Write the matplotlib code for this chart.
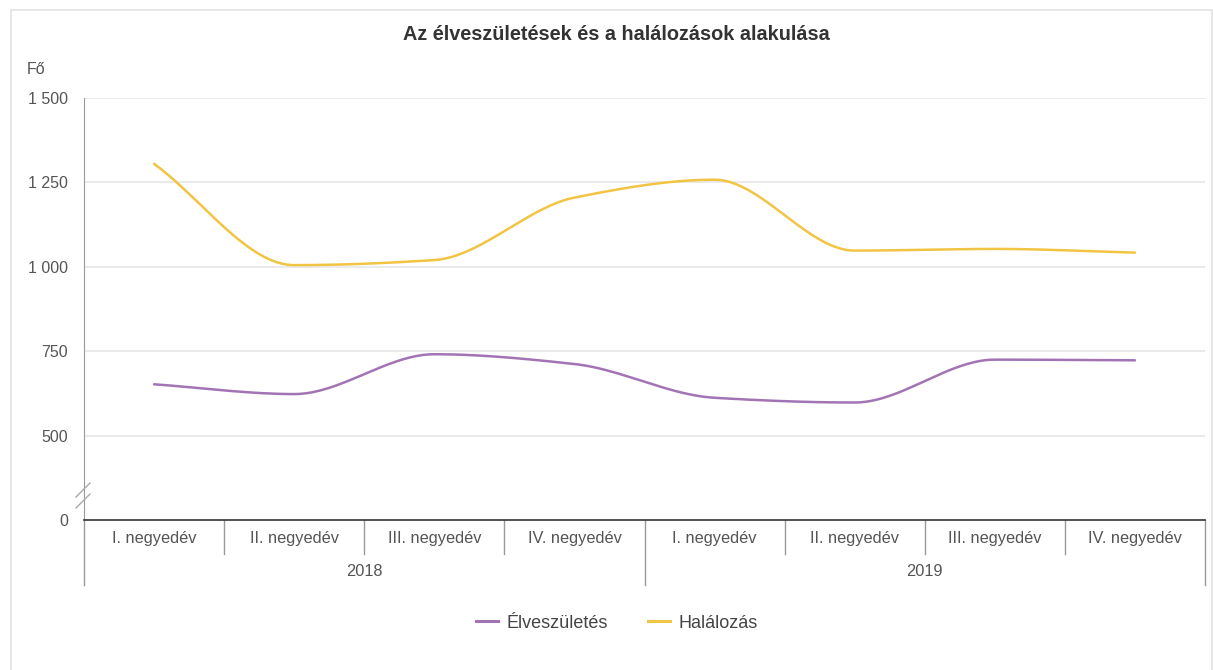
import numpy as np
import matplotlib
matplotlib.use('Agg')
import matplotlib.pyplot as plt
from matplotlib.lines import Line2D
from matplotlib.patches import Rectangle

plt.rcParams['font.family'] = ['Liberation Sans', 'DejaVu Sans']

# adatok
years = ['2018', '2019']
quarters = ['I. negyedév', 'II. negyedév', 'III. negyedév', 'IV. negyedév']
elveszuletes = [652, 623, 741, 712, 612, 598, 725, 723]
halalozas = [1305, 1005, 1020, 1205, 1258, 1048, 1053, 1042]

y_ticks = [250, 500, 750, 1000, 1250, 1500]
y_tick_labels = ['0', '500', '750', '1 000', '1 250', '1 500']

PURPLE = '#a274b4'
YELLOW = '#f2c443'


def monotone_curve(y, n=40):
    # Fritsch-Carlson monoton köbös görbe, csak a vonal simításához
    y = np.asarray(y, dtype=float)
    x = np.arange(len(y), dtype=float)
    d = np.diff(y)
    m = np.zeros_like(y)
    m[0], m[-1] = d[0], d[-1]
    for i in range(1, len(y) - 1):
        if d[i - 1] * d[i] <= 0:
            m[i] = 0
        else:
            m[i] = 2 / (1 / d[i - 1] + 1 / d[i])
    xs, ys = [], []
    for i in range(len(y) - 1):
        t = np.linspace(0, 1, n)
        h00 = 2 * t**3 - 3 * t**2 + 1
        h10 = t**3 - 2 * t**2 + t
        h01 = -2 * t**3 + 3 * t**2
        h11 = t**3 - t**2
        xs.append(x[i] + t)
        ys.append(h00 * y[i] + h10 * m[i] + h01 * y[i + 1] + h11 * m[i + 1])
    return np.concatenate(xs), np.concatenate(ys)


W, H = 1213, 670
fig = plt.figure(figsize=(W / 100, H / 100), dpi=100)
fig.patches.append(Rectangle((11 / W, -0.01), (W - 12) / W, 1 - 10 / H + 0.01,
                             transform=fig.transFigure, fill=False,
                             edgecolor='#e3e3e3', linewidth=1.2))

x0, x1 = 84, 1205
ytop, ybot = 98, 520
ax = fig.add_axes([x0 / W, 1 - ybot / H, (x1 - x0) / W, (ybot - ytop) / H])

n = len(years) * len(quarters)
ax.set_xlim(-0.5, n - 0.5)
ax.set_ylim(250, 1500)

for yv in y_ticks[1:]:
    ax.axhline(yv, color='#e6e6e6', linewidth=1.2, zorder=0)

xs, ys = monotone_curve(elveszuletes)
ax.plot(xs, ys, color=PURPLE, linewidth=1.8, solid_capstyle='round')
xs, ys = monotone_curve(halalozas)
ax.plot(xs, ys, color=YELLOW, linewidth=1.8, solid_capstyle='round')

for s in ['top', 'right']:
    ax.spines[s].set_visible(False)
ax.spines['left'].set_color('#999999')
ax.spines['bottom'].set_color('#333333')
ax.spines['bottom'].set_linewidth(1.2)

ax.set_yticks(y_ticks)
ax.set_yticklabels(y_tick_labels)
ax.tick_params(axis='y', length=0, pad=11.5, labelsize=11.5, labelcolor='#555555')
ax.set_xticks([])

# kategória címkék és elválasztók
trans = ax.get_xaxis_transform()
ax_h = ybot - ytop
for i in range(n):
    ax.text(i, -18 / ax_h, quarters[i % len(quarters)], transform=trans,
            ha='center', va='center', fontsize=11.8, color='#555555')
for i in range(n + 1):
    long = i % len(quarters) == 0
    bottom = -65 / ax_h if long else -34 / ax_h
    ax.plot([i - 0.5, i - 0.5], [0, bottom], transform=trans, color='#999999',
            linewidth=1, clip_on=False)
for j, yr in enumerate(years):
    cx = j * len(quarters) + (len(quarters) - 1) / 2
    ax.text(cx, -51 / ax_h, yr, transform=trans, ha='center', va='center',
            fontsize=11.8, color='#555555')

# tengelytörés jele
for dy in (0, 11):
    fig.add_artist(Line2D([76 / W, 90 / W], [1 - (497 + dy) / H, 1 - (483 + dy) / H],
                          color='#aaaaaa', linewidth=1))

fig.text(616 / W, 1 - 35 / H, 'Az élveszületések és a halálozások alakulása',
         ha='center', va='center', fontsize=14.3, fontweight='bold', color='#333333')
fig.text(27 / W, 1 - 70 / H, 'Fő', ha='left', va='center', fontsize=11.5, color='#555555')

handles = [Line2D([], [], color=PURPLE, linewidth=2.2),
           Line2D([], [], color=YELLOW, linewidth=2.2)]
fig.legend(handles, ['Élveszületés', 'Halálozás'], loc='center',
           bbox_to_anchor=(617 / W, 1 - 623 / H), ncol=2, frameon=False,
           fontsize=13, handlelength=1.2, handletextpad=0.5, columnspacing=2.2,
           labelcolor='#444444')

fig.savefig('out.png', dpi=100)
